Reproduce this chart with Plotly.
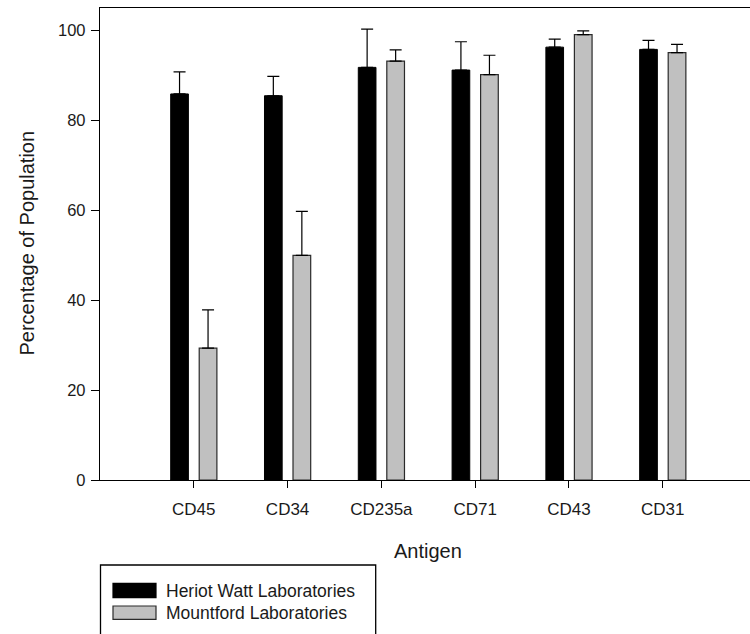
import plotly.graph_objects as go

# Antigen expression measured by two laboratories
antigens = ["CD45", "CD34", "CD235a", "CD71", "CD43", "CD31"]
heriot_watt = [85.8, 85.4, 91.7, 91.1, 96.2, 95.7]
heriot_watt_err = [4.9, 4.3, 8.5, 6.3, 1.8, 2.0]
mountford = [29.3, 49.9, 93.1, 90.1, 99.0, 95.0]
mountford_err = [8.5, 9.8, 2.5, 4.3, 0.8, 1.8]
series_names = ["Heriot Watt Laboratories", "Mountford Laboratories"]
y_ticks = [0, 20, 40, 60, 80, 100]

FONT = "Liberation Sans, Arial, sans-serif"
TEXT = "#1a1a1a"
GREY = "#c0c0c0"

W, H = 750, 634
L, R, T, B = 100, 0, 8, 154
PW, PH = W - L - R, H - T - B


def px(x):
    return (x - L) / PW


def py(y):
    return (H - B - y) / PH


fig = go.Figure()
fig.add_trace(go.Bar(
    x=antigens, y=heriot_watt, name=series_names[0],
    marker=dict(color="black", line=dict(color="black", width=1)),
    error_y=dict(type="data", array=heriot_watt_err, symmetric=False,
                 arrayminus=[0] * len(antigens), color="black",
                 thickness=1.2, width=6),
    showlegend=False,
))
fig.add_trace(go.Bar(
    x=antigens, y=mountford, name=series_names[1],
    marker=dict(color=GREY, line=dict(color="#2a2a2a", width=1.2)),
    error_y=dict(type="data", array=mountford_err, symmetric=False,
                 arrayminus=[0] * len(antigens), color="black",
                 thickness=1.2, width=6),
    showlegend=False,
))

fig.update_layout(
    width=W, height=H,
    margin=dict(l=L, r=R, t=T, b=B, pad=0),
    paper_bgcolor="white", plot_bgcolor="white",
    barmode="group", bargap=0.392, bargroupgap=0.38,
    font=dict(family=FONT, color=TEXT),
)
fig.update_xaxes(
    type="category", range=[-1, 5.93],
    showline=True, linecolor="black", linewidth=1.3, mirror=True,
    ticks="outside", ticklen=7, tickwidth=1.2, tickcolor="black",
    tickfont=dict(size=17, family=FONT, color=TEXT),
    ticklabelstandoff=6,
    showgrid=False, zeroline=False,
)
fig.update_yaxes(
    range=[0, 104.9], tickvals=y_ticks,
    showline=True, linecolor="black", linewidth=1.3,
    ticks="outside", ticklen=8, tickwidth=1.2, tickcolor="black",
    tickfont=dict(size=16.5, family=FONT, color=TEXT),
    ticklabelstandoff=2,
    showgrid=False, zeroline=False,
)

# axis titles
fig.add_annotation(text="Antigen", xref="paper", yref="paper",
                   x=px(428), y=py(551), xanchor="center", yanchor="middle",
                   showarrow=False, font=dict(size=20, family=FONT, color=TEXT))
fig.add_annotation(text="Percentage of Population", xref="paper", yref="paper",
                   x=px(26.5), y=py(243), xanchor="center", yanchor="middle",
                   textangle=-90, showarrow=False,
                   font=dict(size=20, family=FONT, color=TEXT))

# legend box with wide swatches
fig.add_shape(type="rect", xref="paper", yref="paper",
              x0=px(100.5), x1=px(375.7), y0=py(565), y1=py(660),
              line=dict(color="black", width=1.3), fillcolor="white")
swatches = [("black", "black", 583.3, 597.7), (GREY, "#2a2a2a", 606, 619.3)]
for name, (fill, edge, top, bot) in zip(series_names, swatches):
    fig.add_shape(type="rect", xref="paper", yref="paper",
                  x0=px(113), x1=px(156), y0=py(bot), y1=py(top),
                  line=dict(color=edge, width=1.2), fillcolor=fill)
    fig.add_annotation(text=name, xref="paper", yref="paper",
                       x=px(164), y=py((top + bot) / 2), xanchor="left",
                       yanchor="middle", showarrow=False,
                       font=dict(size=17.5, family=FONT, color=TEXT))

fig.write_html("out.html")
